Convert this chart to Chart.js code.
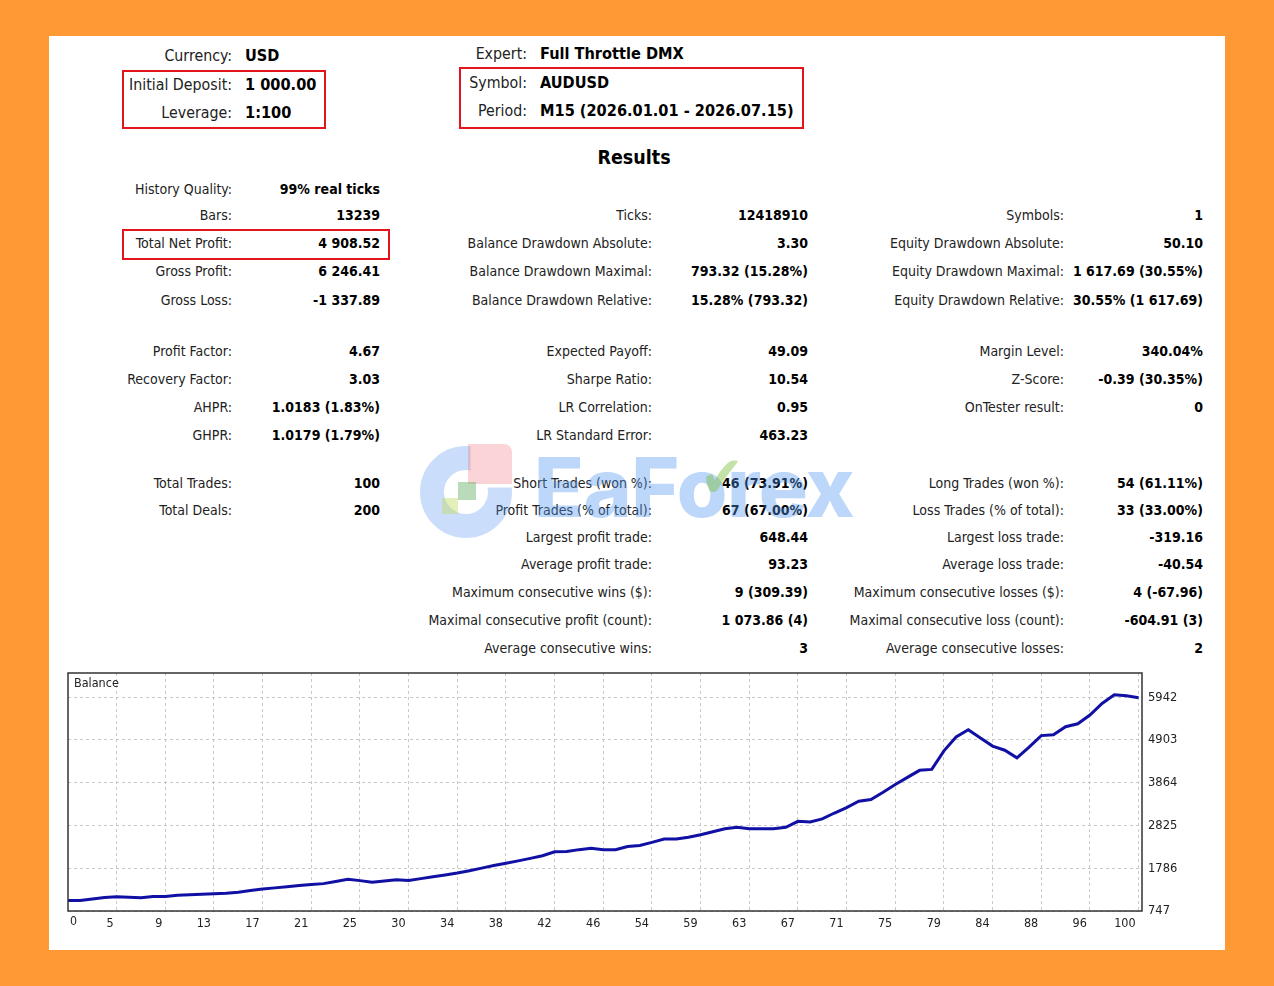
<!DOCTYPE html>
<html>
<head>
<meta charset="utf-8">
<script src="https://cdn.jsdelivr.net/npm/chart.js@4.4.1/dist/chart.umd.min.js"></script>
<style>
  html, body { margin: 0; padding: 0; }
  body { width: 1274px; height: 986px; background: #ff9933; position: relative; overflow: hidden;
         font-family: "DejaVu Sans Condensed", "DejaVu Sans", sans-serif; font-stretch: condensed; }
  #panel { position: absolute; left: 49px; top: 36px; width: 1176px; height: 914px; background: #fff; }
  .t { position: absolute; white-space: nowrap; color: #222; line-height: 1; }
  .b { font-weight: bold; color: #000; }
  .box { position: absolute; border: 2px solid #e3141c; box-sizing: border-box; }
  #wrap { position: absolute; left: 60px; top: 665px; width: 1140px; height: 270px; }
  .wm { position: absolute; pointer-events: none; }
</style>
</head>
<body>
<div id="panel"></div>
<div class="box" style="left:122px;top:70px;width:204px;height:59px"></div>
<div class="box" style="left:459px;top:67px;width:345px;height:62px"></div>
<div class="box" style="left:122px;top:229px;width:268px;height:31px"></div>
<div id="wrap"><canvas id="balanceChart" width="1140" height="270"></canvas></div>

<script>
// balance chart data
const tickLabels = ['0', '5', '9', '13', '17', '21', '25', '30', '34', '38', '42', '46',
                    '54', '59', '63', '67', '71', '75', '79', '84', '88', '96', '100'];
const yTicks = [747, 1786, 2825, 3864, 4903, 5942];
// balance read every quarter grid step along the x axis
const balance = [1000, 1000, 1040, 1077, 1094, 1082, 1072, 1102, 1102, 1128,
                 1143, 1155, 1168, 1180, 1202, 1243, 1280, 1309, 1339, 1366,
                 1390, 1412, 1463, 1517, 1485, 1444, 1476, 1507, 1488, 1534,
                 1578, 1622, 1671, 1727, 1789, 1852, 1908, 1965, 2026, 2089,
                 2187, 2192, 2238, 2273, 2234, 2234, 2314, 2339, 2414, 2495,
                 2495, 2539, 2600, 2674, 2747, 2779, 2747, 2747, 2747, 2781,
                 2926, 2911, 2984, 3128, 3258, 3415, 3454, 3632, 3820, 3994,
                 4165, 4187, 4639, 4974, 5153, 4948, 4754, 4654, 4470, 4727,
                 5009, 5028, 5224, 5297, 5510, 5791, 5999, 5977, 5930];
const STEP = 0.25;

// report text
const header = [
    ['Currency:', 'USD'],
    ['Initial Deposit:', '1 000.00'],
    ['Leverage:', '1:100']
];
const header2 = [
    ['Expert:', 'Full Throttle DMX'],
    ['Symbol:', 'AUDUSD'],
    ['Period:', 'M15 (2026.01.01 - 2026.07.15)']
];
const col1 = [
    ['History Quality:', '99% real ticks'], ['Bars:', '13239'], ['Total Net Profit:', '4 908.52'],
    ['Gross Profit:', '6 246.41'], ['Gross Loss:', '-1 337.89'],
    ['Profit Factor:', '4.67'], ['Recovery Factor:', '3.03'], ['AHPR:', '1.0183 (1.83%)'], ['GHPR:', '1.0179 (1.79%)'],
    ['Total Trades:', '100'], ['Total Deals:', '200']
];
const col1Rows = [0, 1, 2, 3, 4, 5, 6, 7, 8, 9, 10];
const col2 = [
    ['Ticks:', '12418910'], ['Balance Drawdown Absolute:', '3.30'], ['Balance Drawdown Maximal:', '793.32 (15.28%)'],
    ['Balance Drawdown Relative:', '15.28% (793.32)'],
    ['Expected Payoff:', '49.09'], ['Sharpe Ratio:', '10.54'], ['LR Correlation:', '0.95'], ['LR Standard Error:', '463.23'],
    ['Short Trades (won %):', '46 (73.91%)'], ['Profit Trades (% of total):', '67 (67.00%)'],
    ['Largest profit trade:', '648.44'], ['Average profit trade:', '93.23'],
    ['Maximum consecutive wins ($):', '9 (309.39)'], ['Maximal consecutive profit (count):', '1 073.86 (4)'],
    ['Average consecutive wins:', '3']
];
const col2Rows = [1, 2, 3, 4, 5, 6, 7, 8, 9, 10, 11, 12, 13, 14, 15];
const col3 = [
    ['Symbols:', '1'], ['Equity Drawdown Absolute:', '50.10'], ['Equity Drawdown Maximal:', '1 617.69 (30.55%)'],
    ['Equity Drawdown Relative:', '30.55% (1 617.69)'],
    ['Margin Level:', '340.04%'], ['Z-Score:', '-0.39 (30.35%)'], ['OnTester result:', '0'],
    ['Long Trades (won %):', '54 (61.11%)'], ['Loss Trades (% of total):', '33 (33.00%)'],
    ['Largest loss trade:', '-319.16'], ['Average loss trade:', '-40.54'],
    ['Maximum consecutive losses ($):', '4 (-67.96)'], ['Maximal consecutive loss (count):', '-604.91 (3)'],
    ['Average consecutive losses:', '2']
];
const col3Rows = [1, 2, 3, 4, 5, 6, 7, 9, 10, 11, 12, 13, 14, 15];

const rowY = [189, 214.5, 242.5, 271, 299.5, 350.5, 378.5, 406.5, 434.5, 482.5, 510, 536.5, 564, 592, 620, 648];

function put(txt, x, y, size, align, bold) {
    const d = document.createElement('div');
    d.className = bold ? 't b' : 't';
    d.textContent = txt;
    d.style.left = x + 'px';
    d.style.top = y + 'px';
    d.style.fontSize = size + 'px';
    const tx = align === 'right' ? '-100%' : (align === 'center' ? '-50%' : '0');
    d.style.transform = 'translate(' + tx + ',-50%)';
    document.body.appendChild(d);
}

const headY = [56, 85, 113];
header.forEach((r, i) => {
    put(r[0], 232, headY[i], 15.8, 'right', false);
    put(r[1], 245, headY[i], 16.2, 'left', true);
});
const headY2 = [54, 83, 111];
header2.forEach((r, i) => {
    put(r[0], 527, headY2[i], 15.8, 'right', false);
    put(r[1], 540, headY2[i], 16.2, 'left', true);
});
put('Results', 634, 158, 19.5, 'center', true);

col1.forEach((r, i) => {
    put(r[0], 232, rowY[col1Rows[i]], 14, 'right', false);
    put(r[1], 380, rowY[col1Rows[i]], 14, 'right', true);
});
col2.forEach((r, i) => {
    put(r[0], 652, rowY[col2Rows[i]], 14, 'right', false);
    put(r[1], 808, rowY[col2Rows[i]], 14, 'right', true);
});
col3.forEach((r, i) => {
    put(r[0], 1064, rowY[col3Rows[i]], 14, 'right', false);
    put(r[1], 1203, rowY[col3Rows[i]], 14, 'right', true);
});

const FONT = '"DejaVu Sans Condensed", "DejaVu Sans", sans-serif';
Chart.defaults.font.family = FONT;
Chart.defaults.color = '#222';

// frame round the plot, the "Balance" caption and the first x label (sits inside the frame)
const framePlugin = {
    id: 'frame',
    afterDraw(chart) {
        const { ctx, chartArea: a } = chart;
        ctx.save();
        ctx.strokeStyle = '#333';
        ctx.lineWidth = 1.5;
        ctx.strokeRect(a.left, a.top, a.right - a.left, a.bottom - a.top);
        ctx.font = '12.5px ' + FONT;
        ctx.fillStyle = '#222';
        ctx.textBaseline = 'middle';
        ctx.fillText('Balance', a.left + 6, a.top + 11);
        ctx.font = '12.3px ' + FONT;
        ctx.fillText(tickLabels[0], a.left + 2, a.bottom + 11);
        ctx.restore();
    }
};

const ctx = document.getElementById('balanceChart').getContext('2d');
new Chart(ctx, {
    type: 'line',
    data: {
        datasets: [{
            data: balance.map((v, i) => ({ x: i * STEP, y: v })),
            borderColor: '#1010a4',
            borderWidth: 3,
            pointRadius: 0,
            tension: 0,
            fill: false
        }]
    },
    options: {
        responsive: false,
        animation: false,
        layout: { padding: { left: 8, top: 8, right: 0, bottom: 0 } },
        plugins: { legend: { display: false }, tooltip: { enabled: false } },
        scales: {
            x: {
                type: 'linear',
                min: 0,
                max: 22.07,
                afterBuildTicks: s => { s.ticks = tickLabels.slice(1).map((_, i) => ({ value: i + 1 })); },
                afterFit: s => { s.height = 24; s.paddingLeft = 0; s.paddingRight = 0; },
                grid: { color: '#c8c8c8', drawTicks: false },
                border: { display: false, dash: [3, 3] },
                ticks: {
                    align: 'end', padding: 5, labelOffset: -3, autoSkip: false, maxRotation: 0, minRotation: 0,
                    color: '#222', font: { size: 12.5 },
                    callback: v => tickLabels[v]
                }
            },
            y: {
                position: 'right',
                min: 747,
                max: 6530,
                afterBuildTicks: s => { s.ticks = yTicks.map(v => ({ value: v })); },
                afterFit: s => { s.width = 58; s.paddingTop = 0; s.paddingBottom = 0; },
                grid: { color: '#c8c8c8', drawTicks: false },
                border: { display: false, dash: [3, 3] },
                ticks: { padding: 6, color: '#222', font: { size: 12.8 }, callback: v => String(v) }
            }
        }
    },
    plugins: [framePlugin]
});
</script>

<!-- watermark -->
<div class="wm" style="left:420px;top:446px;width:92px;height:92px;border-radius:50%;border:24px solid rgba(90,150,240,0.32);box-sizing:border-box;clip-path:polygon(0 0,55% 0,55% 45%,100% 45%,100% 100%,0 100%);"></div>
<div class="wm" style="left:468px;top:444px;width:44px;height:40px;background:rgba(240,120,130,0.32);border-radius:0 8px 0 0;"></div>
<div class="wm" style="left:458px;top:482px;width:18px;height:18px;background:rgba(90,170,90,0.42);"></div>
<div class="wm" style="left:442px;top:498px;width:16px;height:16px;background:rgba(190,220,90,0.42);"></div>
<div class="wm" style="left:534px;top:488px;transform:translateY(-50%);font-family:Inter, sans-serif;font-weight:800;font-size:82px;color:rgba(80,150,240,0.38);letter-spacing:-0.5px;line-height:1;">EaForex</div>
<div class="wm" style="left:700px;top:448px;font-family:'DejaVu Sans';font-size:58px;color:rgba(120,190,60,0.45);line-height:1;">✔</div>
</body>
</html>
